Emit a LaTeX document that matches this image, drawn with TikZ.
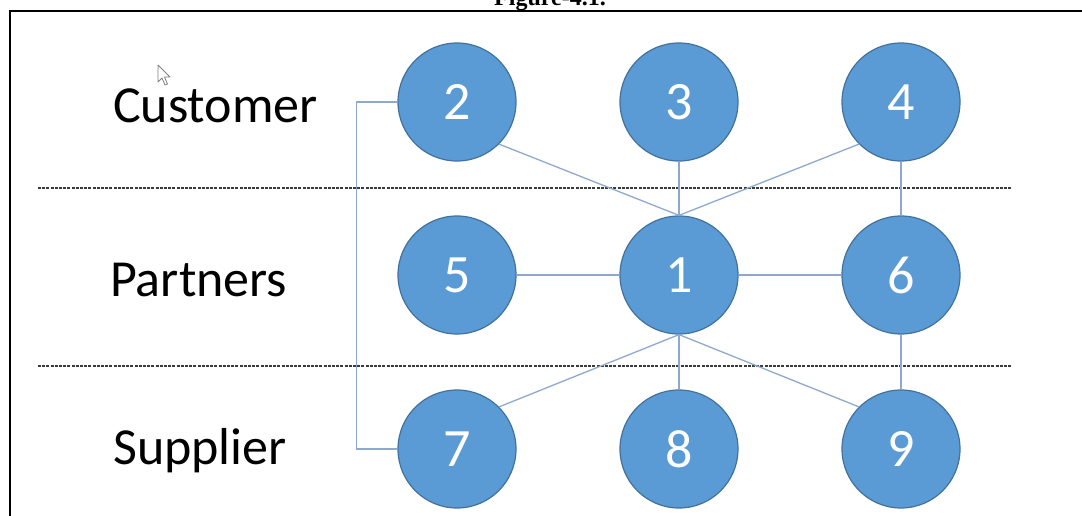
\documentclass[tikz,border=0pt]{standalone}
\usepackage{fontspec}
\setmainfont{Carlito}
\newfontfamily\titlefont{Liberation Serif}
\definecolor{nodefill}{HTML}{5B9BD5}
\definecolor{nodeedge}{HTML}{41719C}
\definecolor{linkcol}{HTML}{8FA9CC}
\definecolor{sepcol}{HTML}{3A3A3A}
\tikzset{
  numnode/.style={circle, minimum size=118pt, inner sep=0pt, fill=nodefill, draw=nodeedge, line width=1.2pt, text=white, font=\fontsize{54}{54}\selectfont},
  rowlabel/.style={anchor=base west, inner sep=0pt, font=\fontsize{52}{52}\selectfont},
  link/.style={draw=linkcol, line width=1.3pt},
  separator/.style={draw=sepcol, line width=1.8pt, dash pattern=on 3pt off 1.2pt},
  frameline/.style={draw=black, line width=2pt},
  pointer/.style={draw=gray, fill=white, line width=0.8pt, line join=round}
}
\begin{document}
\begin{tikzpicture}[x=1pt, y=-1pt]
\useasboundingbox (0,0) rectangle (1082,516);
% title (cut at top, as in the reference)
\node[anchor=base, inner sep=0pt, font=\titlefont\bfseries\fontsize{24}{24}\selectfont] (title) at (550,6) {Figure-4.1.};
% frame
\coordinate (ftl) at (10,11);
\coordinate (ftr) at (1082,11);
\coordinate (fbl) at (10,516);
\draw[frameline] (ftr) -- (ftl) -- (fbl);
% separators
\coordinate (s1a) at (38,188);
\coordinate (s1b) at (1011,188);
\coordinate (s2a) at (38,366);
\coordinate (s2b) at (1011,366);
\draw[separator] (s1a) -- (s1b);
\draw[separator] (s2a) -- (s2b);
% row labels
\node[rowlabel] (lcust) at (113,123) {Customer};
\node[rowlabel] (lpart) at (110,296) {Partners};
\node[rowlabel] (lsupp) at (113,464) {Supplier};
% nodes
\node[numnode] (n2) at (457,102) {2};
\node[numnode] (n3) at (679,102) {3};
\node[numnode] (n4) at (901,102) {4};
\node[numnode] (n5) at (457,275) {5};
\node[numnode] (n1) at (679,275) {1};
\node[numnode] (n6) at (901,275) {6};
\node[numnode] (n7) at (457,449) {7};
\node[numnode] (n8) at (679,449) {8};
\node[numnode] (n9) at (901,449) {9};
% links
\draw[link] (n2.south east) -- (n1.north);
\draw[link] (n3.south) -- (n1.north);
\draw[link] (n4.south west) -- (n1.north);
\draw[link] (n4.south) -- (n6.north);
\draw[link] (n5.east) -- (n1.west);
\draw[link] (n1.east) -- (n6.west);
\draw[link] (n6.south) -- (n9.north);
\draw[link] (n1.south) -- (n7.north east);
\draw[link] (n1.south) -- (n8.north);
\draw[link] (n1.south) -- (n9.north west);
\draw[link] (n2.west) -- ++(-41,0) |- (n7.west);
% mouse pointer
\coordinate (p0) at (158,65);
\draw[pointer] (p0) -- ++(0,17) -- ++(4,-4) -- ++(3,7) -- ++(2.5,-1) -- ++(-3,-7) -- ++(5.5,0) -- cycle;
\end{tikzpicture}
\end{document}
